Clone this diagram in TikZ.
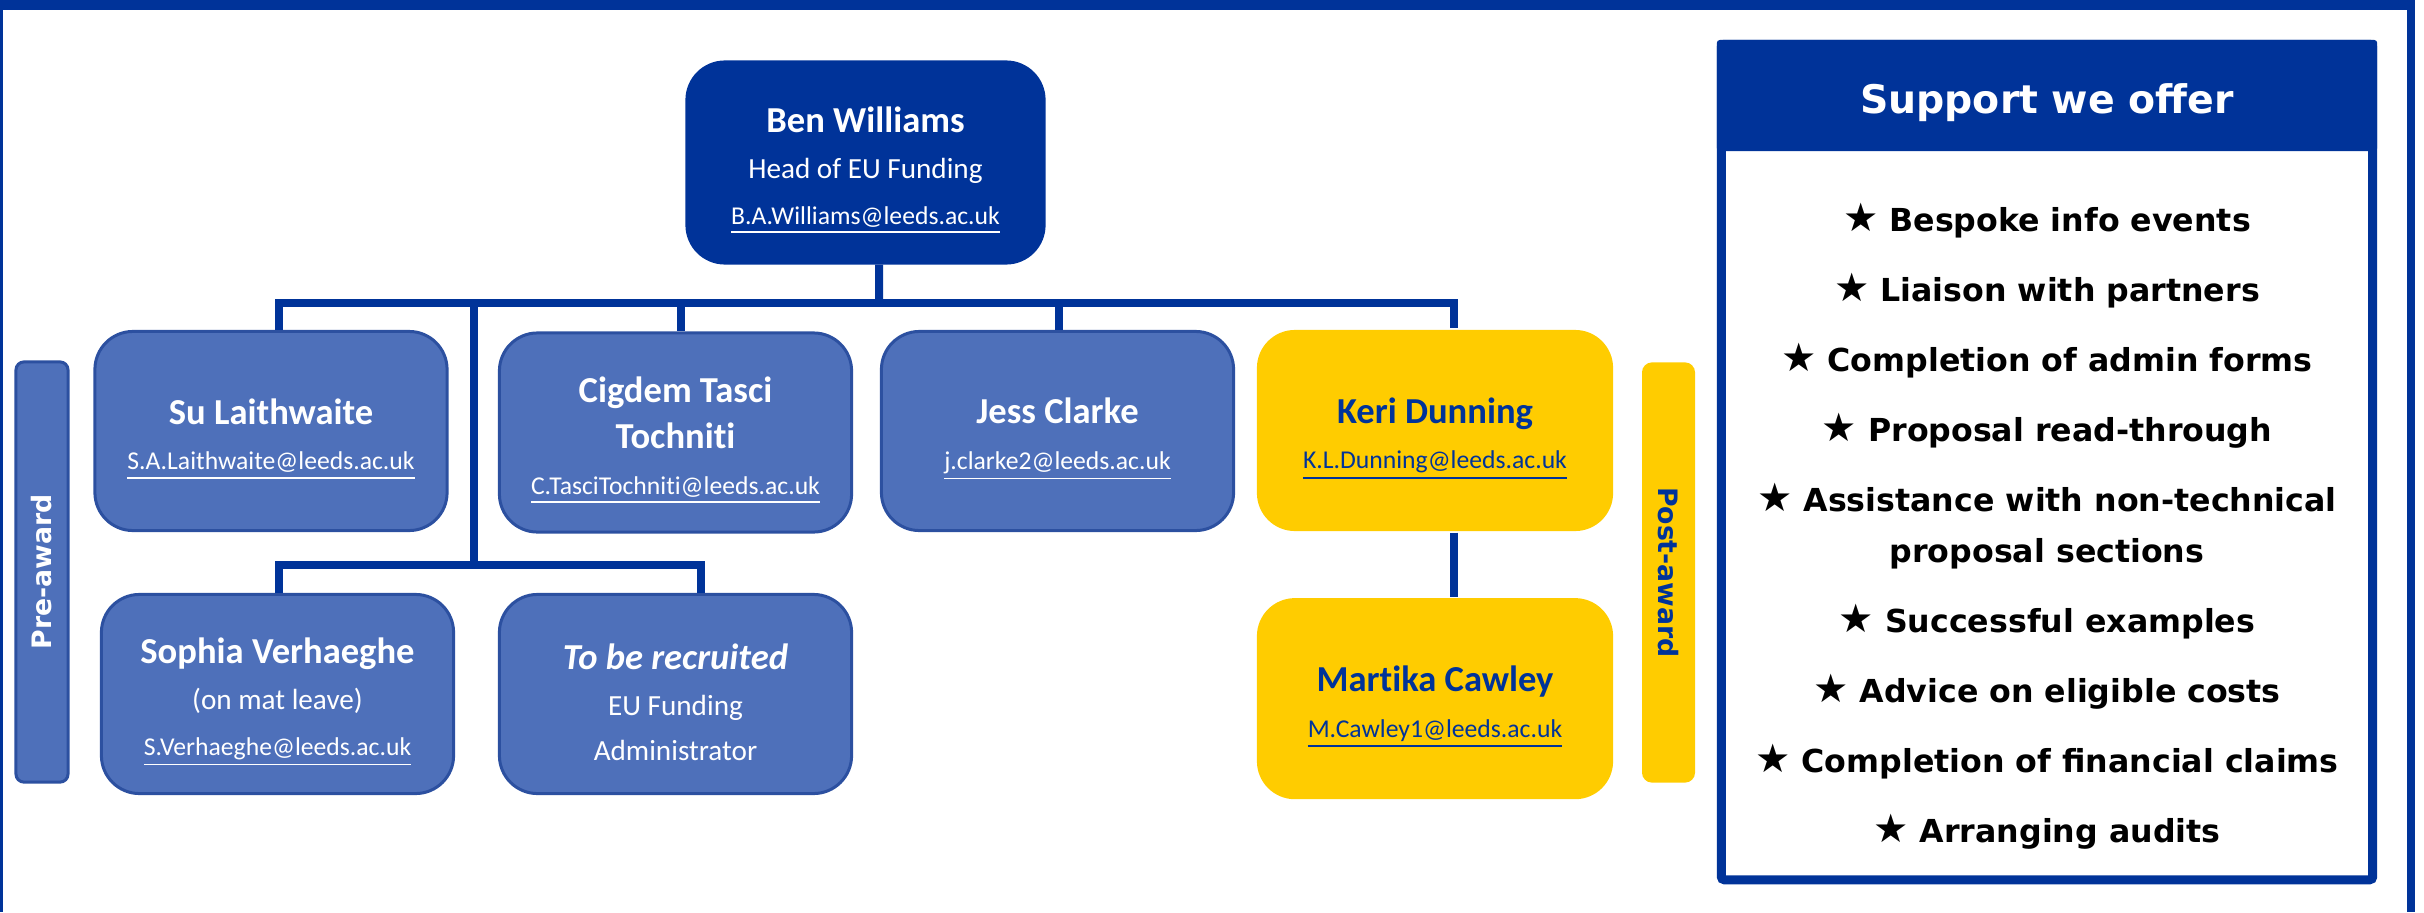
\documentclass[tikz,border=0pt]{standalone}
\usepackage{fontspec}
\setmainfont{Carlito}[Ligatures=NoCommon]
\newfontfamily\verdfont{DejaVu Sans}
\usepackage{tikz}
\usetikzlibrary{positioning}
\definecolor{EUBlue}{HTML}{003399}
\definecolor{EUMid}{HTML}{4E70BA}
\definecolor{EUEdge}{HTML}{2C50A0}
\definecolor{EUGold}{HTML}{FFCC00}
\newcommand{\who}[1]{{\fontsize{10.4}{13}\selectfont\bfseries\rule{0pt}{12pt}#1}}
\newcommand{\whonext}[1]{{\fontsize{10.4}{13}\selectfont\bfseries #1}}
\newcommand{\mail}[1]{{\fontsize{7.3}{13}\selectfont\underline{#1}}}
\newcommand{\offstar}{{\fontsize{11.2}{14.5}\selectfont★}}

\begin{document}
\begin{tikzpicture}[x=0.01cm,y=-0.01cm,node distance=0.64cm]
  \tikzstyle{staffbox}=[draw=EUEdge,line width=0.03cm,fill=EUMid,text=white,
    rounded corners=0.38cm,minimum width=3.52cm,minimum height=1.99cm,
    align=center,inner sep=0pt,font=\fontsize{8.3}{13}\selectfont]
  \tikzstyle{postbox}=[staffbox,draw=none,fill=EUGold,text=EUBlue,
    minimum width=3.56cm,minimum height=2.01cm]
  \tikzstyle{sidetab}=[staffbox,rounded corners=0.08cm,minimum width=4.2cm,
    minimum height=0.52cm,font=\verdfont\bfseries\fontsize{7.6}{9}\selectfont]
  \tikzstyle{link}=[draw=EUBlue,line width=0.08cm]
  \useasboundingbox (0,0) rectangle (2424,912);
  % page frame
  \fill[EUBlue] (0,0) rectangle (2415,9.5);
  \fill[EUBlue] (0,0) rectangle (3,912);
  \fill[EUBlue] (2407,0) rectangle (2415,912);
  % team
  \node[staffbox,draw=EUBlue,fill=EUBlue,minimum width=3.57cm,minimum height=2.01cm] (ben) at (865.5,162.5)
    {\who{Ben Williams}\\Head of EU Funding\\\mail{B.A.Williams@leeds.ac.uk}};
  \node[staffbox] (su) at (271,431) {\who{Su Laithwaite}\\\mail{S.A.Laithwaite@leeds.ac.uk}};
  \node[staffbox] (cigdem) at (675.5,432.5) {\who{Cigdem Tasci}\\\whonext{Tochniti}\\\mail{C.TasciTochniti@leeds.ac.uk}};
  \node[staffbox] (jess) at (1057.5,431) {\who{Jess Clarke}\\\mail{j.clarke2@leeds.ac.uk}};
  \node[postbox] (keri) at (1435,430.5) {\who{Keri Dunning}\\\mail{K.L.Dunning@leeds.ac.uk}};
  \node[postbox,below=of keri] (martika) {\who{Martika Cawley}\\\mail{M.Cawley1@leeds.ac.uk}};
  \node[staffbox] (sophia) at (277.5,694) {\who{Sophia Verhaeghe}\\(on mat leave)\\\mail{S.Verhaeghe@leeds.ac.uk}};
  \node[staffbox] (tbr) at (675.5,694) {\who{\itshape To be recruited}\\EU Funding\\Administrator};
  \node[sidetab,rotate=90] (pre) at (42,572) {Pre-award};
  \node[sidetab,draw=none,fill=EUGold,text=EUBlue,rounded corners=0.1cm,minimum height=0.53cm,rotate=-90] (post) at (1668.5,572.5) {Post-award};
  % tree
  \coordinate (bus) at (879,303);
  \coordinate (subbus) at (474,565);
  \draw[link] ([xshift=0.135cm]ben.south) -- (bus);
  \draw[link] (bus) -| ([xshift=0.08cm]su.north);
  \draw[link] (bus) -| ([xshift=0.055cm]cigdem.north);
  \draw[link] (bus) -| ([xshift=0.015cm]jess.north);
  \draw[link] (bus) -| ([xshift=0.19cm]keri.north);
  \draw[link] (bus) -| (subbus);
  \draw[link] (subbus) -| ([xshift=0.015cm]sophia.north);
  \draw[link] (subbus) -| ([xshift=0.255cm]tbr.north);
  \draw[link] ([xshift=0.19cm]keri.south) -- ([xshift=0.19cm]martika.north);
  % support panel
  \node[draw=EUBlue,line width=0.09cm,fill=white,rounded corners=0.03cm,
    minimum width=6.51cm,minimum height=8.35cm,inner sep=0pt] (offer) at (2047,462) {};
  \node[fill=EUBlue,rounded corners=0.03cm,minimum width=6.6cm,minimum height=1.11cm] (offerhead) at (2047,95.5) {};
  \node[text=white,font=\verdfont\bfseries\fontsize{11.2}{13}\selectfont] (offertitle) at (2047,103) {Support we offer};
  \node[align=center,font=\verdfont\bfseries\fontsize{9}{14.5}\selectfont] (offerlist) at (2047,526)
    {\offstar{} Bespoke info events\\[5.4pt]
     \offstar{} Liaison with partners\\[5.4pt]
     \offstar{} Completion of admin forms\\[5.4pt]
     \offstar{} Proposal read-through\\[5.4pt]
     \offstar{} Assistance with non-technical\\proposal sections\\[5.4pt]
     \offstar{} Successful examples\\[5.4pt]
     \offstar{} Advice on eligible costs\\[5.4pt]
     \offstar{} Completion of financial claims\\[5.4pt]
     \offstar{} Arranging audits};
\end{tikzpicture}
\end{document}
